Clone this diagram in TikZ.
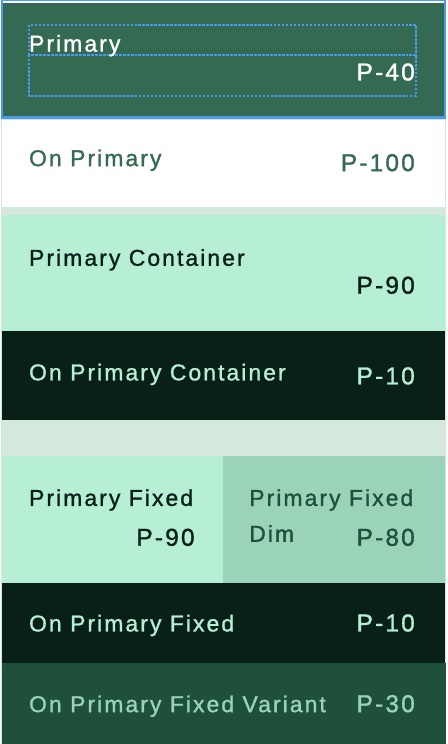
\documentclass[tikz,border=0pt]{standalone}
\usepackage{fontspec}
\setmainfont[LetterSpace=9, FakeBold=1.2]{Liberation Sans}

\definecolor{gapmint}{HTML}{D4E8DC}
\definecolor{ptforty}{HTML}{356A52}
\definecolor{ptninety}{HTML}{B7EFD4}
\definecolor{pteighty}{HTML}{9BD3B8}
\definecolor{ptthirty}{HTML}{1F503C}
\definecolor{ptten}{HTML}{092019}
\definecolor{selblue}{HTML}{4A9BF0}

\begin{document}
\begin{tikzpicture}[x=1pt, y=-1pt,
	role/.style={anchor=base west, inner sep=0pt, font=\fontsize{23}{27}\selectfont},
	tone/.style={anchor=base east, inner sep=0pt, font=\fontsize{24.5}{28}\selectfont},
	guide/.style={draw=selblue, dash pattern=on 2.5pt off 1.5pt, line width=2pt}]
	% swatch tiles
	\fill[gapmint] (0,0) rectangle (446,744);
	\fill[ptforty] (1,0) rectangle (445,117);
	\fill[white] (1,118) rectangle (445,205);
	\fill[ptninety] (1,213) rectangle (445,329);
	\fill[ptten] (1,329) rectangle (445,419);
	\fill[ptninety] (1,455) rectangle (222,582);
	\fill[pteighty] (222,455) rectangle (445,582);
	\fill[ptten] (1,582) rectangle (445,663);
	\fill[ptthirty] (1,663) rectangle (446,744);

	% selection
	\draw[selblue, line width=1.5pt] (0.75,-2) rectangle (445.25,116);
	\draw[selblue, line width=3pt] (0,115.5) -- (446,115.5);
	\draw[guide] (28,22) rectangle (416,52);
	\draw[guide] (28,52) rectangle (416,94);

	\node[role, text=white] (primary) at (27.5,49) {Primary};
	\node[tone, text=white] (primaryT) at (415,78) {P-40};

	\node[role, text=ptforty] (onprimary) at (27.5,164) {On Primary};
	\node[tone, text=ptforty] (onprimaryT) at (415,169) {P-100};

	\node[role, text=ptten] (container) at (27.5,264) {Primary Container};
	\node[tone, text=ptten] (containerT) at (415,292) {P-90};

	\node[role, text=ptninety] (oncontainer) at (27.5,379) {On Primary Container};
	\node[tone, text=ptninety] (oncontainerT) at (415,383) {P-10};

	\node[role, text=ptten] (fixed) at (27.5,505) {Primary Fixed};
	\node[tone, text=ptten] (fixedT) at (194,545) {P-90};

	\node[role, text=ptthirty] (fixeddim) at (248.5,505) {Primary Fixed};
	\node[role, text=ptthirty] (fixeddimB) at (248.5,541) {Dim};
	\node[tone, text=ptthirty] (fixeddimT) at (415,545) {P-80};

	\node[role, text=ptninety] (onfixed) at (27.5,631) {On Primary Fixed};
	\node[tone, text=ptninety] (onfixedT) at (415,631) {P-10};

	\node[role, text=pteighty] (variant) at (27.5,712) {On Primary Fixed Variant};
	\node[tone, text=pteighty] (variantT) at (415,712) {P-30};
\end{tikzpicture}
\end{document}
